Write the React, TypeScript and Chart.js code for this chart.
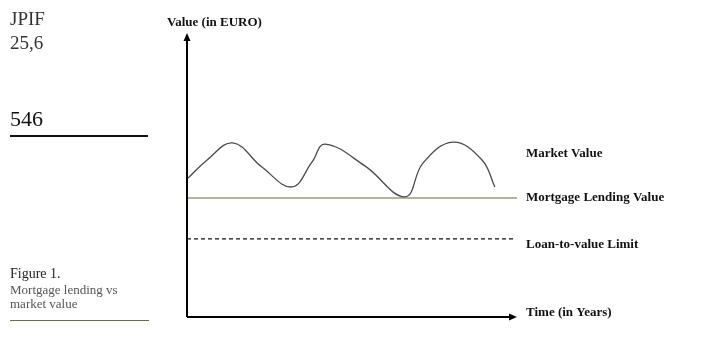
import React, { useEffect, useRef } from "react";
import { Chart, registerables } from "chart.js";

Chart.register(...registerables);

// Time positions (0..100) and market value (0..100)
const marketTime = [0.3, 6.1, 13.9, 22.7, 31.8, 37.9, 41.8, 53.9, 66.1, 71.5, 80.6, 89.4, 93.3];
const marketValue = [48.9, 55.3, 61.3, 52.8, 45.8, 54.6, 60.9, 53.2, 42.3, 54.2, 61.6, 55.3, 45.8];
const lendingTime = [0, 100.3];
const lendingValue = [41.9, 41.9];
const ltvTime = [0, 98.8];
const ltvValue = [27.5, 27.5];

const seriesLabels = ["Market Value", "Mortgage Lending Value", "Loan-to-value Limit"];
const xAxisTitle = "Time (in Years)";
const yAxisTitle = "Value (in EURO)";

const toPts = (xs: number[], ys: number[]) => xs.map((x, i) => ({ x, y: ys[i] }));

const overlay = {
  id: "overlay",
  afterDraw(chart: any) {
    const { ctx, chartArea } = chart;
    const { left, right, top, bottom } = chartArea;
    const ys = chart.scales.y;
    ctx.save();
    ctx.strokeStyle = "#000";
    ctx.fillStyle = "#000";
    ctx.lineWidth = 2;
    // y axis
    ctx.beginPath();
    ctx.moveTo(left, bottom);
    ctx.lineTo(left, top + 6);
    ctx.stroke();
    ctx.beginPath();
    ctx.moveTo(left, top);
    ctx.lineTo(left - 3.5, top + 8);
    ctx.lineTo(left + 3.5, top + 8);
    ctx.closePath();
    ctx.fill();
    // x axis
    ctx.beginPath();
    ctx.moveTo(left, bottom);
    ctx.lineTo(right - 6, bottom);
    ctx.stroke();
    ctx.beginPath();
    ctx.moveTo(right, bottom);
    ctx.lineTo(right - 8, bottom - 3.5);
    ctx.lineTo(right - 8, bottom + 3.5);
    ctx.closePath();
    ctx.fill();

    ctx.font = "bold 13px 'Liberation Serif', 'Times New Roman', serif";
    ctx.textBaseline = "middle";
    ctx.textAlign = "left";
    ctx.fillStyle = "#111";
    const lx = right + 9;
    ctx.fillText(seriesLabels[0], lx, ys.getPixelForValue(57.4));
    ctx.fillText(seriesLabels[1], lx, ys.getPixelForValue(lendingValue[0]));
    ctx.fillText(seriesLabels[2], lx, ys.getPixelForValue(ltvValue[0]) + 6);
    ctx.fillText(xAxisTitle, lx, bottom - 4);
    ctx.fillText(yAxisTitle, left - 20, top - 10);
    ctx.restore();
  },
};

function ChartCanvas() {
  const ref = useRef<HTMLCanvasElement | null>(null);
  useEffect(() => {
    if (!ref.current) return;
    const chart = new Chart(ref.current, {
      type: "line",
      data: {
        datasets: [
          {
            label: seriesLabels[0],
            data: toPts(marketTime, marketValue),
            borderColor: "#4a4a4a",
            borderWidth: 1.3,
            pointRadius: 0,
            tension: 0.4,
            fill: false,
          },
          {
            label: seriesLabels[1],
            data: toPts(lendingTime, lendingValue),
            borderColor: "#6b6a32",
            borderWidth: 1.2,
            pointRadius: 0,
            fill: false,
          },
          {
            label: seriesLabels[2],
            data: toPts(ltvTime, ltvValue),
            borderColor: "#111",
            borderWidth: 1.2,
            borderDash: [4, 3],
            pointRadius: 0,
            fill: false,
          },
        ],
      },
      options: {
        animation: false,
        responsive: false,
        maintainAspectRatio: false,
        layout: { padding: { left: 187, top: 33, right: 211, bottom: 27 } },
        plugins: { legend: { display: false }, tooltip: { enabled: false } },
        scales: {
          x: { type: "linear", min: 0, max: 100, display: false },
          y: { type: "linear", min: 0, max: 100, display: false },
        },
      },
      plugins: [overlay],
    } as any);
    return () => chart.destroy();
  }, []);
  return <canvas ref={ref} width={728} height={344} style={{ position: "absolute", left: 0, top: 0 }} />;
}

export default function App() {
  return (
    <div style={{ position: "fixed", left: 0, top: 0, width: 728, height: 344, background: "#fff", overflow: "hidden" }}>
      <ChartCanvas />
      <div style={{ position: "absolute", left: 10, top: 7, fontFamily: "'Liberation Serif', serif", fontSize: 19, color: "#333", lineHeight: "24px" }}>
        <div>JPIF</div>
        <div>25,6</div>
      </div>
      <div style={{ position: "absolute", left: 10, top: 106, fontFamily: "'Liberation Serif', serif", fontSize: 22, color: "#111", lineHeight: "26px" }}>546</div>
      <div style={{ position: "absolute", left: 10, top: 135, width: 138, height: 2, background: "#111" }} />
      <div style={{ position: "absolute", left: 10, top: 266, fontFamily: "'Liberation Serif', serif", fontSize: 14, color: "#222", lineHeight: "16px" }}>Figure 1.</div>
      <div style={{ position: "absolute", left: 10, top: 283, fontFamily: "'Liberation Serif', serif", fontSize: 13, color: "#555", lineHeight: "14px" }}>
        <div>Mortgage lending vs</div>
        <div>market value</div>
      </div>
      <div style={{ position: "absolute", left: 10, top: 320, width: 139, height: 1, background: "#6b6a4a" }} />
    </div>
  );
}
